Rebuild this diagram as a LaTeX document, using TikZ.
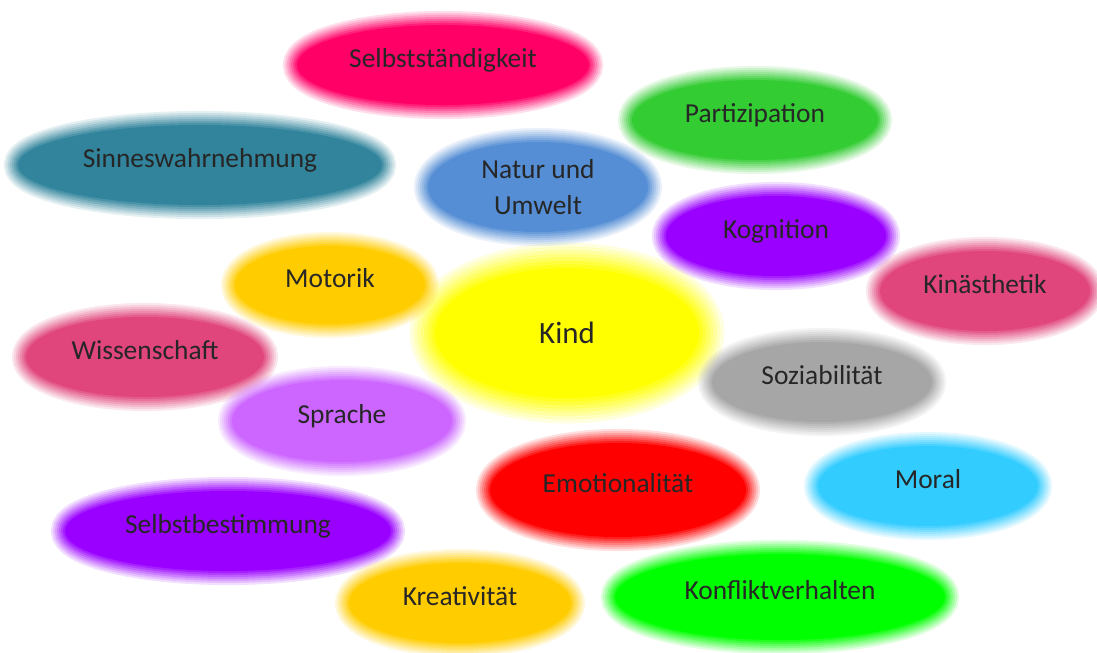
\documentclass[tikz,border=0pt]{standalone}
\usepackage{fontspec}
\setmainfont{Carlito}
\usetikzlibrary{shapes.geometric}

\definecolor{textgray}{HTML}{262626}
\definecolor{selbstpink}{HTML}{FF0066}
\definecolor{partgreen}{HTML}{33CC33}
\definecolor{sinnteal}{HTML}{31849B}
\definecolor{naturblue}{HTML}{558ED5}
\definecolor{kogpurple}{HTML}{9900FF}
\definecolor{kinpink}{HTML}{E0457B}
\definecolor{motorgold}{HTML}{FFCC00}
\definecolor{kindyellow}{HTML}{FFFF00}
\definecolor{soziagray}{HTML}{A6A6A6}
\definecolor{sprachlila}{HTML}{CC66FF}
\definecolor{emored}{HTML}{FF0000}
\definecolor{moralblue}{HTML}{33CCFF}
\definecolor{konfgreen}{HTML}{00FF00}

\tikzset{
  every node/.style={font=\fontsize{19.5}{25}\selectfont, text=textgray, align=center}
}
\tikzset{blur/.store in=\blobblur, blur=20pt}
\tikzset{blob/.style={ellipse,fill=#1,inner sep=0pt,
    preaction={draw=#1,line width=\blobblur,opacity=0.125},
    preaction={draw=#1,line width=\blobblur*6/7,opacity=0.143},
    preaction={draw=#1,line width=\blobblur*5/7,opacity=0.167},
    preaction={draw=#1,line width=\blobblur*4/7,opacity=0.2},
    preaction={draw=#1,line width=\blobblur*3/7,opacity=0.25},
    preaction={draw=#1,line width=\blobblur*2/7,opacity=0.333},
    preaction={draw=#1,line width=\blobblur/7,opacity=0.5}}}
\tikzset{blob size/.style 2 args={minimum width=#1*0.05cm,minimum height=#2*0.05cm}}
\tikzset{word/.style={text height=10pt,text depth=7pt}}

\begin{document}
\begin{tikzpicture}[x=0.025cm,y=-0.025cm]
  \useasboundingbox (0,0) rectangle (1097,652);

  % centre with a wide glow
  \node [blur=36pt, blob=kindyellow, blob size={132}{65},
         font=\fontsize{22}{25}\selectfont]            (kind)   at (567,333) {Kind};

  \node [blob=selbstpink, blob size={146}{40}, word]  (selbst) at (443,65)  {Selbstständigkeit};
  \node [blob=partgreen,  blob size={123}{40}, word]  (part)   at (755,120) {Partizipation};
  \node [blob=sinnteal,   blob size={182}{40}, word]  (sinn)   at (200,165) {Sinneswahrnehmung};
  \node [blob=naturblue,  blob size={110}{45}]        (natur)  at (538,187) {Natur und\\Umwelt};
  \node [blob=kogpurple,  blob size={110}{40}, word]  (kog)    at (776,236) {Kognition};
  \node [blob=kinpink,    blob size={105}{40}, word]  (kin)    at (985,291) {Kinästhetik};
  \node [blob=motorgold,  blob size={95}{39}, word]   (motor)  at (330,285) {Motorik};
  \node [blob=kinpink,    blob size={119}{40}, word]  (wiss)   at (145,357) {Wissenschaft};
  \node [blob=soziagray,  blob size={110}{40}, word]  (sozia)  at (822,382) {Soziabilität};
  \node [blob=sprachlila, blob size={110}{41}, word]  (sprach) at (342,421) {Sprache};
  \node [blob=emored,     blob size={128}{47}, word]  (emo)    at (618,490) {Emotionalität};
  \node [blob=moralblue,  blob size={110}{40}, word]  (moral)  at (928,486) {Moral};
  \node [blob=kogpurple,  blob size={163}{40}, word]  (bestim) at (228,531) {Selbstbestimmung};
  \node [blob=motorgold,  blob size={111}{40}, word]  (kreat)  at (460,603) {Kreativität};
  \node [blob=konfgreen,  blob size={165}{43}, word]  (konf)   at (780,597) {Konfliktverhalten};

\end{tikzpicture}
\end{document}
